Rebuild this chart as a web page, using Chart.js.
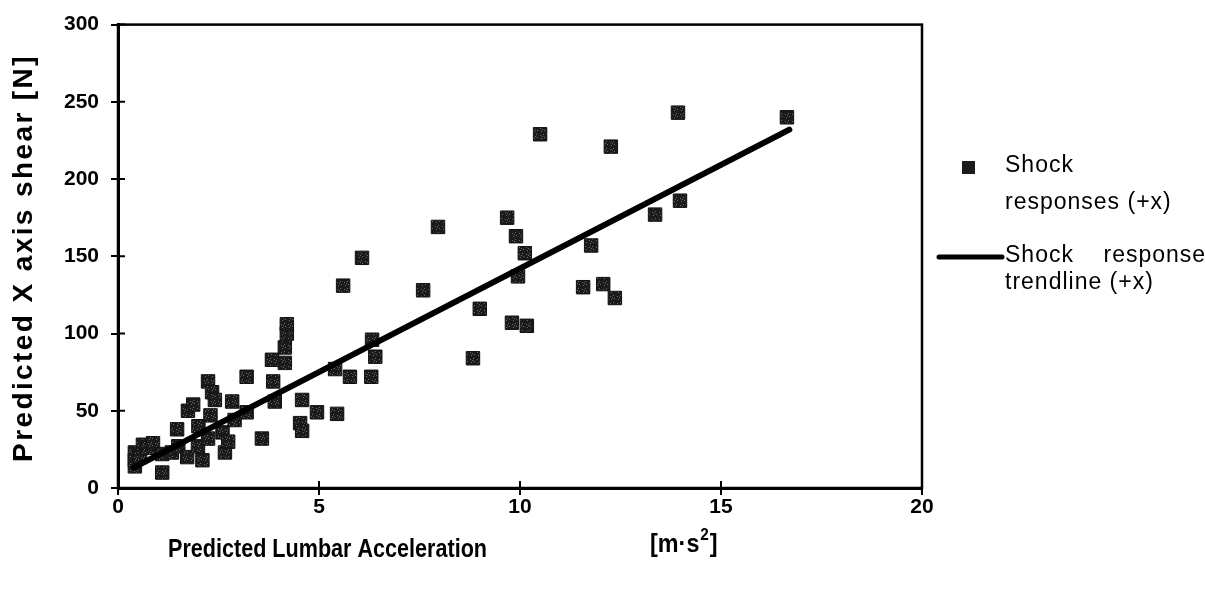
<!DOCTYPE html>
<html>
<head>
<meta charset="utf-8">
<script src="https://cdn.jsdelivr.net/npm/chart.js@4/dist/chart.umd.min.js"></script>
<style>
  html, body { margin: 0; padding: 0; background: #fff; }
  #wrap { width: 1205px; height: 595px; }
</style>
</head>
<body>
<div id="wrap"><canvas id="c" width="1205" height="595"></canvas></div>
<script>
// Predicted lumbar acceleration [m·s²] for each shock response (+x)
const accel = [
  0.42, 0.42, 0.42, 0.55, 0.62, 0.75, 0.87, 1.10, 1.10, 1.34,
  1.47, 1.50, 1.72, 1.74, 1.87, 1.99, 2.00, 2.10, 2.24, 2.24,
  2.30, 2.34, 2.41, 2.60, 2.66, 2.74, 2.84, 2.90, 3.20, 3.20,
  3.58, 3.83, 3.86, 3.90, 4.15, 4.15, 4.20, 4.20, 4.53, 4.58,
  4.58, 4.95, 5.45, 5.40, 5.60, 5.77, 6.07, 6.30, 6.32, 6.40,
  7.59, 7.96, 8.83, 9.00, 9.68, 9.80, 9.90, 9.95, 10.12, 10.17,
  10.50, 11.57, 11.77, 12.07, 12.36, 12.26, 13.36, 13.93, 13.98, 16.64
];
// Predicted X axis shear [N] for the same responses
const shear = [
  14, 18, 23, 20, 28, 26, 29, 10, 22, 23,
  38, 27, 20, 50, 54, 27, 40, 18, 32, 69,
  47, 62, 57, 36, 23, 30, 56, 44, 72, 49,
  32, 83, 69, 56, 81, 91, 100, 106, 42, 57,
  37, 49, 48, 77, 131, 72, 149, 72, 96, 85,
  128, 169, 84, 116, 175, 107, 163, 137, 152, 105,
  229, 130, 157, 132, 123, 221, 177, 243, 186, 240
];
// Linear trendline end points
const trendX = [0.4, 16.7];
const trendY = [13.3, 232];

const xTicks = [0, 5, 10, 15, 20];
const yTicks = [0, 50, 100, 150, 200, 250, 300];

const seriesLabels = [['Shock', 'responses (+x)'], ['Shock    response', 'trendline (+x)']];
const xTitle = 'Predicted Lumbar Acceleration';
const yTitle = 'Predicted X axis shear [N]';

const SANS = '"Liberation Sans", Arial, sans-serif';

const scatterPts = accel.map((x, i) => ({ x, y: shear[i] }));
const trendPts = trendX.map((x, i) => ({ x, y: trendY[i] }));

// Dark speckled fill for the square markers
function speckleFill() {
  const t = document.createElement('canvas');
  t.width = 7; t.height = 7;
  const g = t.getContext('2d');
  g.fillStyle = '#1b1b1b';
  g.fillRect(0, 0, 7, 7);
  g.fillStyle = '#6a6a6a';
  [[1, 2], [4, 1], [5, 4], [2, 5], [3, 3]].forEach(([x, y]) => g.fillRect(x, y, 1, 1));
  return g.createPattern(t, 'repeat');
}

// Frame, inner tick halves, axis captions and the legend
const decorations = {
  id: 'decorations',
  afterDraw(chart) {
    const ctx = chart.ctx;
    const a = chart.chartArea;
    const xs = chart.scales.x, ys = chart.scales.y;
    ctx.save();
    ctx.strokeStyle = '#000';
    ctx.lineWidth = 2.5;
    ctx.strokeRect(a.left, a.top, a.right - a.left, a.bottom - a.top);
    ctx.lineWidth = 2;
    ctx.beginPath();
    xTicks.forEach(v => {
      const px = xs.getPixelForValue(v);
      ctx.moveTo(px, a.bottom); ctx.lineTo(px, a.bottom - 7);
    });
    yTicks.forEach(v => {
      const py = ys.getPixelForValue(v);
      ctx.moveTo(a.left, py); ctx.lineTo(a.left + 7, py);
    });
    ctx.stroke();

    // y axis caption
    ctx.fillStyle = '#000';
    ctx.save();
    ctx.translate(24, 258);
    ctx.rotate(-Math.PI / 2);
    ctx.font = 'bold 28px ' + SANS;
    ctx.letterSpacing = '2.4px';
    ctx.textAlign = 'center';
    ctx.textBaseline = 'middle';
    ctx.fillText(yTitle, 0, 0);
    ctx.restore();

    // x axis caption (condensed) and unit
    ctx.save();
    ctx.translate(168, 550);
    ctx.scale(0.83, 1);
    ctx.font = 'bold 26px ' + SANS;
    ctx.textAlign = 'left';
    ctx.textBaseline = 'middle';
    ctx.fillText(xTitle, 0, 0);
    ctx.restore();

    ctx.save();
    ctx.translate(650, 545);
    ctx.scale(0.9, 1);
    ctx.textAlign = 'left';
    ctx.textBaseline = 'middle';
    const parts = ['[m·s', '2', ']'];
    let ux = 0;
    ctx.font = 'bold 26px ' + SANS;
    ctx.fillText(parts[0], ux, 0);
    ux += ctx.measureText(parts[0]).width;
    ctx.font = 'bold 17px ' + SANS;
    ctx.fillText(parts[1], ux + 1, -10);
    ux += ctx.measureText(parts[1]).width + 2;
    ctx.font = 'bold 26px ' + SANS;
    ctx.fillText(parts[2], ux, 0);
    ctx.restore();

    // legend
    const ds1 = chart.data.datasets[1];
    ctx.fillStyle = '#1b1b1b';
    ctx.fillRect(962, 161, 13, 13);
    ctx.strokeStyle = ds1.borderColor;
    ctx.lineWidth = 5;
    ctx.lineCap = 'round';
    ctx.beginPath();
    ctx.moveTo(939, 257); ctx.lineTo(1002, 257);
    ctx.stroke();
    ctx.fillStyle = '#000';
    ctx.font = '23px ' + SANS;
    ctx.letterSpacing = '1px';
    ctx.textAlign = 'left';
    ctx.textBaseline = 'middle';
    ctx.fillText(seriesLabels[0][0], 1005, 166);
    ctx.fillText(seriesLabels[0][1], 1005, 203);
    ctx.fillText(seriesLabels[1][0], 1005, 256);
    ctx.fillText(seriesLabels[1][1], 1005, 283);
    ctx.restore();
  }
};

const canvas = document.getElementById('c');
const markerFill = speckleFill();

new Chart(canvas, {
  data: {
    datasets: [
      {
        type: 'scatter',
        label: 'Shock responses (+x)',
        data: scatterPts,
        pointStyle: 'rect',
        pointRadius: 9.5,
        backgroundColor: markerFill,
        borderColor: '#111',
        borderWidth: 1,
        order: 2
      },
      {
        type: 'line',
        label: 'Shock response trendline (+x)',
        data: trendPts,
        borderColor: '#000',
        borderWidth: 6,
        borderCapStyle: 'round',
        pointRadius: 0,
        fill: false,
        order: 1
      }
    ]
  },
  options: {
    responsive: false,
    animation: false,
    layout: { padding: { left: 0, right: 283, top: 21, bottom: 0 } },
    plugins: { legend: { display: false }, tooltip: { enabled: false } },
    scales: {
      x: {
        type: 'linear',
        min: 0, max: 20,
        afterBuildTicks: s => { s.ticks = xTicks.map(v => ({ value: v })); },
        afterFit: s => { s.height = 107; },
        grid: { drawOnChartArea: false, drawTicks: true, tickLength: 7, color: '#000', lineWidth: 2 },
        border: { display: true, color: '#000', width: 3 },
        ticks: { color: '#000', padding: 0, font: { family: SANS, size: 21, weight: 'bold' } }
      },
      y: {
        type: 'linear',
        min: 0, max: 300,
        afterBuildTicks: s => { s.ticks = yTicks.map(v => ({ value: v })); },
        afterFit: s => { s.width = 118; },
        grid: { drawOnChartArea: false, drawTicks: true, tickLength: 7, color: '#000', lineWidth: 2 },
        border: { display: true, color: '#000', width: 3 },
        ticks: { color: '#000', padding: 12, font: { family: SANS, size: 21, weight: 'bold' } }
      }
    }
  },
  plugins: [decorations]
});
</script>
</body>
</html>
